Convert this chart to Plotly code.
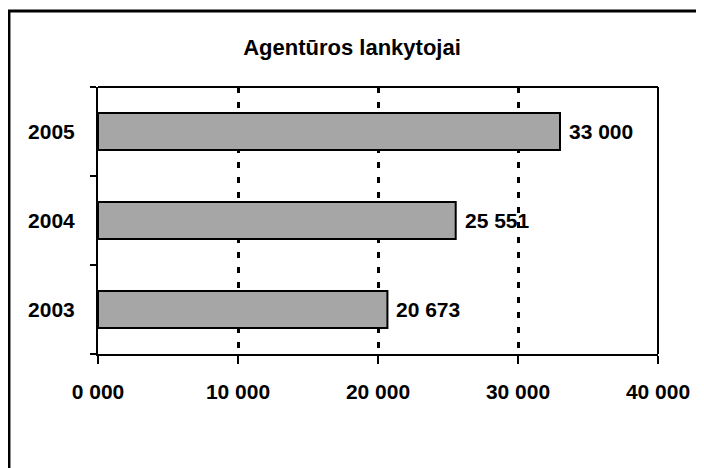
import plotly.graph_objects as go

# visitors of the agency per year
years = ["2003", "2004", "2005"]
visitors = [20673, 25551, 33000]
value_labels = ["20 673", "25 551", "33 000"]

x_ticks = [0, 10000, 20000, 30000, 40000]
x_tick_labels = ["0 000", "10 000", "20 000", "30 000", "40 000"]

font_family = "Liberation Sans, Arial, sans-serif"
bold_font = dict(family=font_family, size=21, color="black", weight="bold")

fig = go.Figure()

fig.add_trace(go.Bar(
    y=years,
    x=visitors,
    orientation="h",
    marker=dict(color="#a6a6a6", line=dict(color="black", width=2)),
    hoverinfo="x+y",
))

# value labels just right of the bar ends (y given as category index)
for i, (val, lab) in enumerate(zip(visitors, value_labels)):
    fig.add_annotation(x=val, y=i, xref="x", yref="y", text=lab,
                       showarrow=False, xanchor="left", yanchor="middle",
                       xshift=7, font=bold_font)

fig.update_xaxes(
    range=[0, 40000],
    tickvals=x_ticks,
    ticktext=x_tick_labels,
    ticks="outside",
    ticklen=8,
    tickwidth=2,
    tickcolor="black",
    ticklabelstandoff=10,
    showline=True,
    linecolor="black",
    linewidth=2,
    showgrid=True,
    gridcolor="black",
    gridwidth=3,
    griddash="6px,9px",
    zeroline=False,
    tickfont=bold_font,
)

fig.update_yaxes(
    type="category",
    range=[-0.5, 2.5],
    tickson="boundaries",
    ticks="outside",
    ticklen=6,
    tickwidth=2,
    tickcolor="black",
    ticklabelstandoff=17,
    showline=True,
    linecolor="black",
    linewidth=2,
    showgrid=False,
    tickfont=bold_font,
)

# top and right edges of the plot area, and the outer chart frame
fig.add_shape(type="line", xref="paper", yref="paper", x0=0, x1=1, y0=1, y1=1,
              line=dict(color="black", width=2))
fig.add_shape(type="line", xref="paper", yref="paper", x0=1, x1=1, y0=0, y1=1,
              line=dict(color="black", width=2))
fig.add_shape(type="rect", xref="paper", yref="paper",
              x0=-0.159, x1=1.1, y0=-1.0, y1=1.2846,
              line=dict(color="black", width=3))

fig.update_layout(
    width=696,
    height=460,
    margin=dict(l=90, r=46, t=79, b=114),
    paper_bgcolor="white",
    plot_bgcolor="white",
    showlegend=False,
    bargap=0.585,
    title=dict(
        text="Agentūros lankytojai",
        x=(352 - 8) / 696,
        xref="container",
        xanchor="center",
        y=1 - (47 - 8) / 460,
        yref="container",
        yanchor="middle",
        font=dict(family=font_family, size=22, color="black", weight="bold"),
    ),
)

fig.write_html("out.html")
